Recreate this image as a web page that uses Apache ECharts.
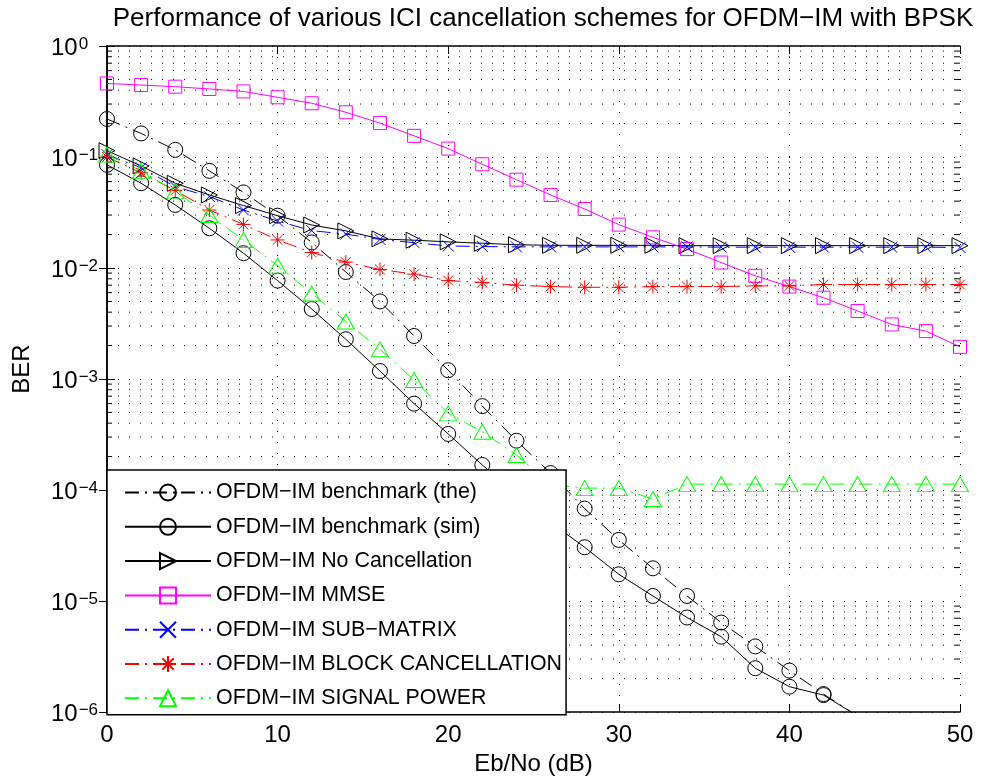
<!DOCTYPE html>
<html>
<head>
<meta charset="utf-8">
<script src="https://cdn.jsdelivr.net/npm/echarts@6/dist/echarts.min.js"></script>
<style>
  html, body { margin: 0; padding: 0; background: #fff; }
  #chart { width: 982px; height: 784px; }
</style>
</head>
<body>
<div id="chart"></div>
<script>
// Eb/No points (dB)
const ebno = [0, 2, 4, 6, 8, 10, 12, 14, 16, 18, 20, 22, 24, 26, 28, 30, 32, 34, 36, 38, 40, 42, 44, 46, 48, 50];

// BER curves
const benchTheory = [0.22, 0.163, 0.116, 0.075, 0.048, 0.0296, 0.017, 0.0092, 0.005, 0.00244, 0.0012, 0.00057,
  0.000278, 0.000142, 6.8e-5, 3.55e-5, 1.97e-5, 1.11e-5, 6.4e-6, 3.9e-6, 2.36e-6, 1.45e-6, 9.2e-7];
const benchSim = [0.085, 0.058, 0.037, 0.0228, 0.0136, 0.0077, 0.00427, 0.00228, 0.00118, 0.0006, 0.00032, 0.000168,
  9.2e-5, 5.1e-5, 3.05e-5, 1.74e-5, 1.11e-5, 7.1e-6, 4.77e-6, 2.48e-6, 1.69e-6, 1.42e-6, 9.2e-7];
const noCancel = [0.114, 0.083, 0.058, 0.0455, 0.0365, 0.0296, 0.0244, 0.0216, 0.0183, 0.0178, 0.0172, 0.0167, 0.0162,
  0.016, 0.016, 0.016, 0.016, 0.0159, 0.0159, 0.0159, 0.0159, 0.0159, 0.0159, 0.0159, 0.0159, 0.0159];
const mmse = [0.46, 0.445, 0.43, 0.41, 0.39, 0.345, 0.305, 0.253, 0.202, 0.155, 0.119, 0.086, 0.0625, 0.0455, 0.034,
  0.0246, 0.0189, 0.0148, 0.0112, 0.0085, 0.0068, 0.0054, 0.0041, 0.0031, 0.0027, 0.00195];
const subMatrix = [0.105, 0.08, 0.054, 0.044, 0.0333, 0.0265, 0.0217, 0.0202, 0.0181, 0.0169, 0.0158, 0.0156, 0.0155,
  0.0155, 0.0155, 0.0155, 0.0155, 0.0155, 0.0154, 0.0154, 0.0154, 0.0154, 0.0154, 0.0154, 0.0154, 0.0153];
const blockCancel = [0.1, 0.072, 0.05, 0.0333, 0.0247, 0.0179, 0.0138, 0.0113, 0.0097, 0.0088, 0.0077, 0.0074, 0.007,
  0.0068, 0.0067, 0.0067, 0.0068, 0.0068, 0.0068, 0.0069, 0.0069, 0.0071, 0.0071, 0.0071, 0.0071, 0.0071];
const signalPower = [0.105, 0.075, 0.049, 0.03, 0.0179, 0.0105, 0.0059, 0.0033, 0.00185, 0.00098, 0.00049, 0.000335,
  0.000207, 0.000112, 0.000104, 0.000104, 8.3e-5, 0.000113, 0.000113, 0.000113, 0.000113, 0.000113, 0.000113,
  0.000113, 0.000113, 0.000113];

const seriesNames = [
  'OFDM\u2212IM benchmark (the)',
  'OFDM\u2212IM benchmark (sim)',
  'OFDM\u2212IM No Cancellation',
  'OFDM\u2212IM MMSE',
  'OFDM\u2212IM SUB\u2212MATRIX',
  'OFDM\u2212IM BLOCK CANCELLATION',
  'OFDM\u2212IM SIGNAL POWER'
];
const titleText = 'Performance of various ICI cancellation schemes for OFDM\u2212IM with BPSK';

// Axis ranges
const xMin = 0, xMax = 50, xStep = 10;
const yMin = 1e-6, yMax = 1;

// Minor log ticks: 2..9 x 10^k inside the y range
const minorVals = [];
for (let k = -6; k < 0; k++) {
  for (let m = 2; m <= 9; m++) minorVals.push(m * Math.pow(10, k));
}

const FONT = "'Liberation Sans', Arial, Helvetica, sans-serif";
const DASHDOT = [14, 6, 2, 6];
const GRID_DASH = [1, 10];

const PATH_X = 'path://M0 0L10 10M10 0L0 10';
const PATH_STAR = 'path://M5 0L5 10M0 5L10 5M1.5 1.5L8.5 8.5M8.5 1.5L1.5 8.5';

function pairs(values) {
  return values.map((v, i) => [ebno[i], v]);
}

function curve(name, values, color, symbol, size, dash, rotate) {
  return {
    name: name,
    type: 'line',
    data: pairs(values),
    symbol: symbol,
    symbolSize: size,
    symbolRotate: rotate || 0,
    showAllSymbol: true,
    clip: true,
    silent: true,
    animation: false,
    lineStyle: { color: color, width: 1, type: dash },
    itemStyle: { color: 'none', borderColor: color, borderWidth: 1 },
    emphasis: { disabled: true }
  };
}

function supLabel(value) {
  const e = Math.round(Math.log10(value));
  const txt = e < 0 ? '\u2212' + Math.abs(e) : String(e);
  return '{b|10}{e|' + txt + '}';
}

const chart = echarts.init(document.getElementById('chart'), null, { renderer: 'canvas' });

const axisLineStyle = { color: '#000', width: 1.5 };

chart.setOption({
  backgroundColor: '#fff',
  animation: false,
  textStyle: { fontFamily: FONT, color: '#000' },
  title: {
    text: titleText,
    left: 538,
    top: 1,
    textAlign: 'center',
    textStyle: { fontFamily: FONT, fontSize: 26, fontWeight: 'normal', color: '#000' }
  },
  grid: { left: 107, right: 22, top: 46, bottom: 72, containLabel: false },
  legend: {
    data: seriesNames,
    orient: 'vertical',
    left: 107,
    top: 470,
    itemWidth: 86,
    itemHeight: 20,
    itemGap: 13.3,
    padding: [12, 4, 6, 17],
    backgroundColor: '#fff',
    borderColor: '#000',
    borderWidth: 1.5,
    selectedMode: false,
    textStyle: { fontFamily: FONT, fontSize: 21.4, lineHeight: 20, color: '#000' },
    z: 10
  },
  xAxis: [
    {
      type: 'value', min: xMin, max: xMax, interval: xStep,
      name: 'Eb/No (dB)', nameLocation: 'middle', nameGap: 40,
      nameTextStyle: { fontFamily: FONT, fontSize: 24, color: '#000' },
      axisLine: { show: true, lineStyle: axisLineStyle },
      axisTick: { show: true, inside: true, length: 8, lineStyle: { color: '#000', width: 1 } },
      axisLabel: { fontFamily: FONT, fontSize: 24, color: '#000', margin: 11 },
      splitLine: { show: true, lineStyle: { color: '#000', width: 1, type: GRID_DASH } }
    },
    {
      type: 'value', position: 'top', min: xMin, max: xMax, interval: xStep,
      axisLine: { show: true, lineStyle: axisLineStyle },
      axisTick: { show: true, inside: true, length: 8, lineStyle: { color: '#000', width: 1 } },
      axisLabel: { show: false },
      splitLine: { show: false }
    }
  ],
  yAxis: [
    {
      type: 'log', logBase: 10, min: yMin, max: yMax, interval: 1,
      name: 'BER', nameLocation: 'middle', nameGap: 73,
      nameTextStyle: { fontFamily: FONT, fontSize: 24, color: '#000', padding: [0, 0, 0, 20] },
      axisLine: { show: true, lineStyle: axisLineStyle },
      axisTick: { show: true, inside: true, length: 8, lineStyle: { color: '#000', width: 1 } },
      axisLabel: {
        align: 'left',
        margin: 56,
        padding: [4, 0, 0, 0],
        formatter: supLabel,
        rich: {
          b: { fontFamily: FONT, fontSize: 24, lineHeight: 24, color: '#000', verticalAlign: 'bottom' },
          e: { fontFamily: FONT, fontSize: 17, lineHeight: 17, color: '#000', verticalAlign: 'top', padding: [0, 0, 15, 1] }
        }
      },
      splitLine: { show: true, lineStyle: { color: '#000', width: 1, type: GRID_DASH } }
    },
    {
      type: 'log', logBase: 10, min: yMin, max: yMax, interval: 1, position: 'right',
      axisLine: { show: true, lineStyle: axisLineStyle },
      axisTick: { show: true, inside: true, length: 8, lineStyle: { color: '#000', width: 1 } },
      axisLabel: { show: false },
      splitLine: { show: false }
    }
  ],
  series: [
    {
      // minor log grid lines and the short minor ticks on both sides
      type: 'custom',
      name: 'minor',
      silent: true,
      animation: false,
      xAxisIndex: 0,
      yAxisIndex: 0,
      z: 1,
      data: minorVals.map(v => [xMin, v]),
      renderItem: function (params, api) {
        const v = api.value(1);
        const p0 = api.coord([xMin, v]);
        const p1 = api.coord([xMax, v]);
        return {
          type: 'group',
          children: [
            { type: 'line', shape: { x1: p0[0], y1: p0[1], x2: p1[0], y2: p1[1] },
              style: { stroke: '#000', lineWidth: 1, lineDash: GRID_DASH } },
            { type: 'line', shape: { x1: p0[0], y1: p0[1], x2: p0[0] + 5, y2: p0[1] },
              style: { stroke: '#000', lineWidth: 1 } },
            { type: 'line', shape: { x1: p1[0] - 5, y1: p1[1], x2: p1[0], y2: p1[1] },
              style: { stroke: '#000', lineWidth: 1 } }
          ]
        };
      }
    },
    curve(seriesNames[0], benchTheory, '#000000', 'circle', 15, DASHDOT),
    curve(seriesNames[1], benchSim, '#000000', 'circle', 15, 'solid'),
    curve(seriesNames[2], noCancel, '#000000', 'triangle', [16, 16], 'solid', -90),
    curve(seriesNames[3], mmse, '#ff00ff', 'rect', 13, 'solid'),
    curve(seriesNames[4], subMatrix, '#0000ff', PATH_X, 11, DASHDOT),
    curve(seriesNames[5], blockCancel, '#ff0000', PATH_STAR, 14, DASHDOT),
    curve(seriesNames[6], signalPower, '#00ff00', 'triangle', [17, 15], DASHDOT)
  ]
});
</script>
</body>
</html>
